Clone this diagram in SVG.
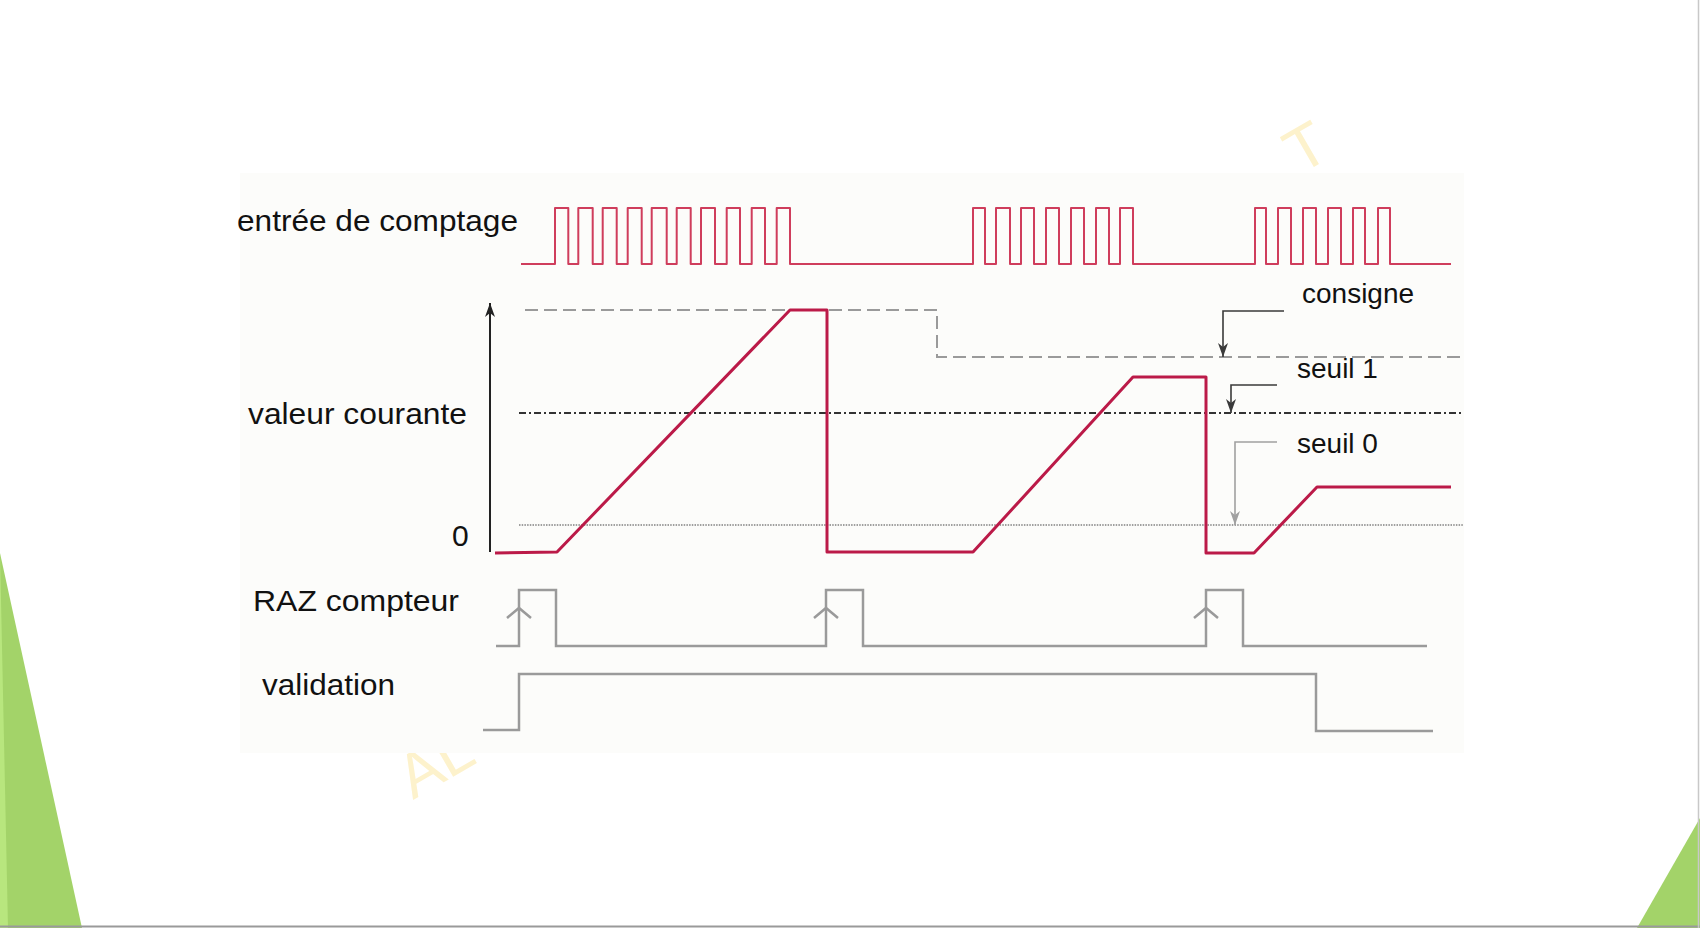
<svg xmlns="http://www.w3.org/2000/svg" width="1700" height="928" viewBox="0 0 1700 928">
<style>
  .lbl { font-family: "Liberation Sans", Arial, sans-serif; font-size: 28px; fill: #111; }
  .lbl-l { font-family: "Liberation Sans", Arial, sans-serif; font-size: 30px; fill: #111; }
  .wm { font-family: "Liberation Sans", Arial, sans-serif; font-size: 62px; fill: #fdf2cc; }
  .pulse { fill: none; stroke: #cf3d5c; stroke-width: 2; stroke-linejoin: round; }
  .value { fill: none; stroke: #bb1a48; stroke-width: 3; stroke-linejoin: round; }
  .consigne { fill: none; stroke: #9a9a9a; stroke-width: 2; stroke-dasharray: 13 6; }
  .seuil1 { fill: none; stroke: #333; stroke-width: 2; stroke-dasharray: 7 3 2 3; }
  .seuil0 { fill: none; stroke: #808080; stroke-width: 1.6; stroke-dasharray: 1.5 1.2; }
  .logic { fill: none; stroke: #9a9a9a; stroke-width: 2.5; stroke-linejoin: miter; }
  .callout { fill: none; stroke: #3a3a3a; stroke-width: 1.6; }
  .callout-light { fill: none; stroke: #a0a0a0; stroke-width: 1.6; }
</style>
<defs>
  <marker id="ah" markerUnits="userSpaceOnUse" markerWidth="14" markerHeight="10" viewBox="0 0 14 10" refX="14" refY="5" orient="auto">
    <path d="M0,0 L14,5 L0,10 L4,5 Z" fill="#3a3a3a"/>
  </marker>
  <marker id="ahl" markerUnits="userSpaceOnUse" markerWidth="14" markerHeight="10" viewBox="0 0 14 10" refX="14" refY="5" orient="auto">
    <path d="M0,0 L14,5 L0,10 L4,5 Z" fill="#a0a0a0"/>
  </marker>
  <marker id="axis" markerUnits="userSpaceOnUse" markerWidth="14" markerHeight="10" viewBox="0 0 14 10" refX="14" refY="5" orient="auto">
    <path d="M0,0 L14,5 L0,10 L4,5 Z" fill="#222"/>
  </marker>
</defs>

<!-- slide background -->
<rect x="0" y="0" width="1700" height="928" fill="#ffffff"/>
<g id="slide-decor">
  <polygon points="0,553 82,928 0,928" fill="#a3d369"/>
  <polygon points="0,553 8,928 0,928" fill="#b8e67e"/>
  <polygon points="1700,818 1637,928 1700,928" fill="#a3d369"/>
  <line x1="0" y1="926.5" x2="1700" y2="926.5" stroke="#9a9a9a" stroke-width="2"/>
  <line x1="1698.5" y1="0" x2="1698.5" y2="928" stroke="#c8c8c8" stroke-width="1.5"/>
</g>
<g id="watermark">
  <text class="wm" x="413" y="800" transform="rotate(-30 413 800)">AL</text>
  <text class="wm" x="1300" y="175" transform="rotate(-30 1300 175)">T</text>
</g>

<!-- diagram image area -->
<rect id="diagram-bg" x="240" y="173" width="1224" height="580" fill="#fcfcfa"/>

<g id="labels">
  <text class="lbl-l" x="237" y="231" textLength="281" lengthAdjust="spacingAndGlyphs">entrée de comptage</text>
  <text class="lbl-l" x="248" y="424" textLength="219" lengthAdjust="spacingAndGlyphs">valeur courante</text>
  <text class="lbl-l" x="452" y="546">0</text>
  <text class="lbl-l" x="253" y="611" textLength="206" lengthAdjust="spacingAndGlyphs">RAZ compteur</text>
  <text class="lbl-l" x="262" y="695" textLength="133" lengthAdjust="spacingAndGlyphs">validation</text>
  <text class="lbl" x="1302" y="303">consigne</text>
  <text class="lbl" x="1297" y="378">seuil 1</text>
  <text class="lbl" x="1297" y="453">seuil 0</text>
</g>

<g id="entree-comptage">
  <path class="pulse" d="M521,264 H555 V208 H568.3 V264 H578.3 V208 H592.7 V264 H602.7 V208 H616.7 V264 H627.7 V208 H641.7 V264 H651.7 V208 H666.7 V264 H676.7 V208 H690.7 V264 H701 V208 H715 V264 H726.7 V208 H740 V264 H751.7 V208 H765 V264 H776.7 V208 H790 V264 H973 V208 H985 V264 H996 V208 H1010 V264 H1021 V208 H1034 V264 H1046 V208 H1059 V264 H1071 V208 H1084 V264 H1096 V208 H1109 V264 H1120 V208 H1133 V264 H1255 V208 H1266 V264 H1278 V208 H1291 V264 H1303 V208 H1316 V264 H1328 V208 H1341 V264 H1353 V208 H1365 V264 H1378 V208 H1390 V264 H1451"/>
</g>

<g id="valeur-courante">
  <line x1="490" y1="552" x2="490" y2="303" stroke="#222" stroke-width="2" marker-end="url(#axis)"/>
  <path class="consigne" d="M525,310 H937 V357 H1463"/>
  <line class="seuil1" x1="519" y1="413" x2="1463" y2="413"/>
  <line class="seuil0" x1="519" y1="525" x2="1463" y2="525"/>
  <path class="value" d="M495,553 L557,552 L790,310 L827,310 L827,552 L973,552 L1133,377 L1206,377 L1206,553 L1254,553 L1317,487 L1451,487"/>
</g>

<g id="connectors">
  <polyline class="callout" points="1284,311 1223,311 1223,357" marker-end="url(#ah)"/>
  <polyline class="callout" points="1277,385 1231,385 1231,413" marker-end="url(#ah)"/>
  <polyline class="callout-light" points="1277,442 1235,442 1235,525" marker-end="url(#ahl)"/>
</g>

<g id="raz-compteur">
  <path class="logic" d="M496,646 H519 V590 H556 V646 H826 V590 H863 V646 H1206 V590 H1243 V646 H1427"/>
  <polyline class="logic" points="507,618 519,608 531,618"/>
  <polyline class="logic" points="814,618 826,608 838,618"/>
  <polyline class="logic" points="1194,618 1206,608 1218,618"/>
</g>

<g id="validation">
  <path class="logic" d="M483,730 H519 V674 H1316 V731 H1433"/>
</g>
</svg>
